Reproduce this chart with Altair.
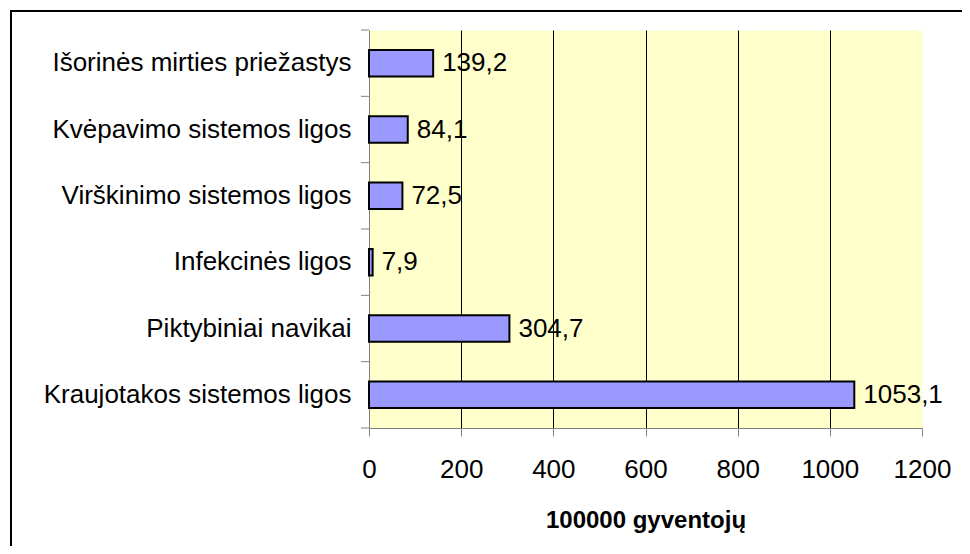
import altair as alt
import pandas as pd

categories = [
    "Išorinės mirties priežastys",
    "Kvėpavimo sistemos ligos",
    "Virškinimo sistemos ligos",
    "Infekcinės ligos",
    "Piktybiniai navikai",
    "Kraujotakos sistemos ligos",
]
values = [139.2, 84.1, 72.5, 7.9, 304.7, 1053.1]
x_ticks = [0, 200, 400, 600, 800, 1000, 1200]
x_title = "100000 gyventojų"

df = pd.DataFrame({"cat": categories, "v": values})

FONT = "Liberation Sans"
FS = 26
H = 398
STEP = H / 6.0
PAD_IN = 0.6

y_enc = alt.Y(
    "cat:N",
    sort=categories,
    scale=alt.Scale(paddingInner=PAD_IN, paddingOuter=0.3),
    axis=alt.Axis(
        title=None,
        ticks=False,
        domainColor="#808080",
        labelFont=FONT,
        labelFontSize=FS,
        labelColor="black",
        labelPadding=18,
        labelLimit=400,
    ),
)
x_enc = alt.X(
    "v:Q",
    scale=alt.Scale(domain=[0, 1200], nice=False),
    axis=alt.Axis(
        values=x_ticks,
        format="d",
        title=x_title,
        titleFont=FONT,
        titleFontSize=24,
        titleFontWeight="bold",
        titleColor="black",
        titlePadding=26,
        labelFont=FONT,
        labelFontSize=FS,
        labelColor="black",
        labelPadding=20,
        labelFlush=False,
        labelOverlap=False,
        tickSize=8,
        tickColor="#808080",
        domainColor="#808080",
        grid=True,
        gridColor="black",
        gridWidth=1,
        gridOpacity={"condition": {"test": "datum.value === 0 || datum.value === 1200", "value": 0}, "value": 1},
    ),
)

bars = alt.Chart(df).mark_bar(fill="#9999FF", stroke="black", strokeWidth=2).encode(x=x_enc, y=y_enc)

labels = (
    alt.Chart(df)
    .transform_calculate(lbl="replace(format(datum.v, '.1f'), '.', ',')")
    .mark_text(align="left", baseline="middle", dx=9, font=FONT, fontSize=FS, color="black")
    .encode(x=x_enc, y=y_enc, text="lbl:N")
)

# category-boundary tick marks on the y axis
yticks = (
    alt.Chart(df)
    .mark_rule(color="#808080", strokeWidth=1, yOffset=-PAD_IN * STEP / 2)
    .encode(y=alt.Y("cat:N", sort=categories, bandPosition=0), x=alt.value(-8), x2=alt.value(0))
)
ytick_bottom = (
    alt.Chart(alt.Data(values=[{}]))
    .mark_rule(color="#808080", strokeWidth=1)
    .encode(y=alt.value(H), x=alt.value(-8), x2=alt.value(0))
)

frame = (
    alt.Chart(alt.Data(values=[{}]))
    .mark_rect(fill="transparent", stroke="black", strokeWidth=2)
    .encode(x=alt.value(-358), x2=alt.value(1200), y=alt.value(-19), y2=alt.value(1000))
)

chart = (
    alt.layer(bars, labels, yticks, ytick_bottom, frame)
    .properties(
        width=553,
        height=H,
        autosize=alt.AutoSizeParams(type="none"),
        padding={"left": 361, "top": 22, "right": 40, "bottom": 118},
    )
    .configure_view(fill="#FFFFCC", stroke="transparent")
)

chart.save("out.html", embed_options={"renderer": "svg", "actions": False})
